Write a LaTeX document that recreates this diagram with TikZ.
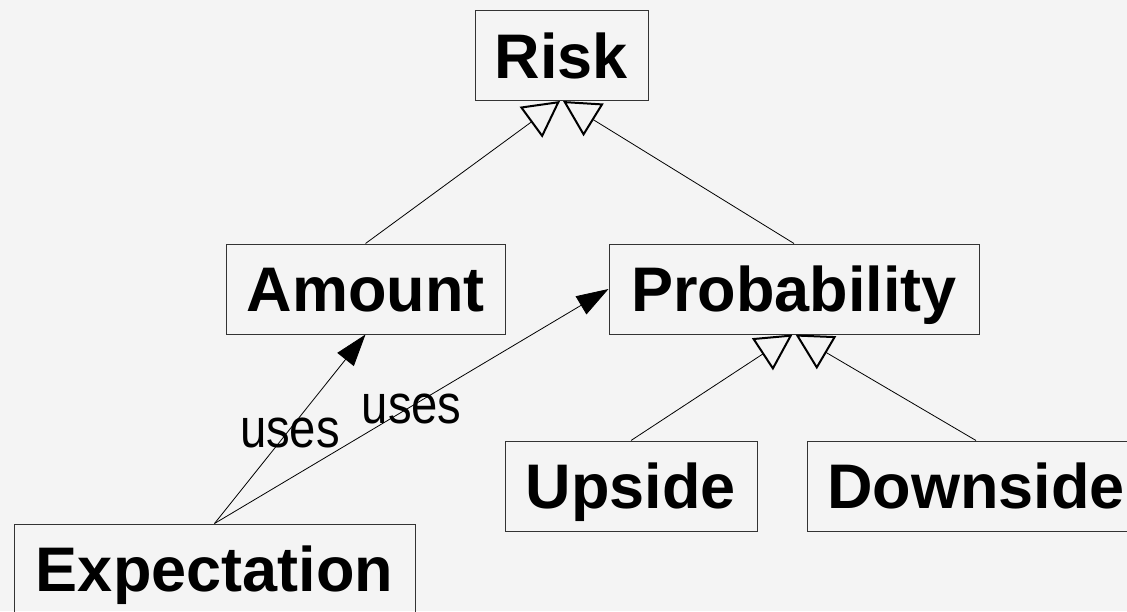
\documentclass[tikz,border=0pt]{standalone}
\usepackage{fontspec}
\setmainfont{Liberation Sans}
\usetikzlibrary{arrows.meta}
\definecolor{bg}{HTML}{F4F4F4}
\definecolor{ln}{HTML}{333333}
\tikzset{
  cls/.style={draw=ln, line width=1pt, inner sep=0pt, text height=45pt, text depth=0pt,
    minimum height=90pt, font=\fontsize{63}{70}\selectfont\bfseries, anchor=center},
  gen/.style={draw=black, line width=0.8pt, -{Triangle[open, length=36pt, width=38pt, line width=2pt]}},
  usesarrow/.style={draw=black, line width=0.8pt, -{Triangle[length=32pt, width=21pt]}},
  lbl/.style={inner sep=0pt, anchor=base, font=\fontsize{55}{60}\selectfont}
}
\begin{document}
\begin{tikzpicture}[x=1pt, y=-1pt]
  \fill[bg] (0,0) rectangle (1127,611);
  \useasboundingbox (0,0) rectangle (1127,611);
  \node[cls, minimum width=173pt] (risk) at (561.5,55.5) {Risk};
  \node[cls, minimum width=279pt] (amount) at (365.5,289) {Amount};
  \node[cls, minimum width=370pt] (probability) at (794,289) {Probability};
  \node[cls, minimum width=252pt] (upside) at (631,486) {Upside};
  \node[cls, minimum width=338pt] (downside) at (976,486) {Downside};
  \node[cls, minimum width=401pt] (expectation) at (214.5,569) {Expectation};
  \draw[gen] (amount.north) -- ([xshift=-1.5pt]risk.south);
  \draw[gen] (probability.north) -- ([xshift=1.5pt]risk.south);
  \draw[gen] (upside.north) -- ([xshift=-1.5pt]probability.south);
  \draw[gen] (downside.north) -- ([xshift=1.5pt]probability.south);
  \draw[usesarrow] (expectation.north) -- (amount.south);
  \draw[usesarrow] (expectation.north) -- (probability.west);
  \node[lbl] (uses1) at (290,447) {\scalebox{0.86}[1]{uses}};
  \node[lbl] (uses2) at (411.7,423.5) {\scalebox{0.86}[1]{uses}};
\end{tikzpicture}
\end{document}
